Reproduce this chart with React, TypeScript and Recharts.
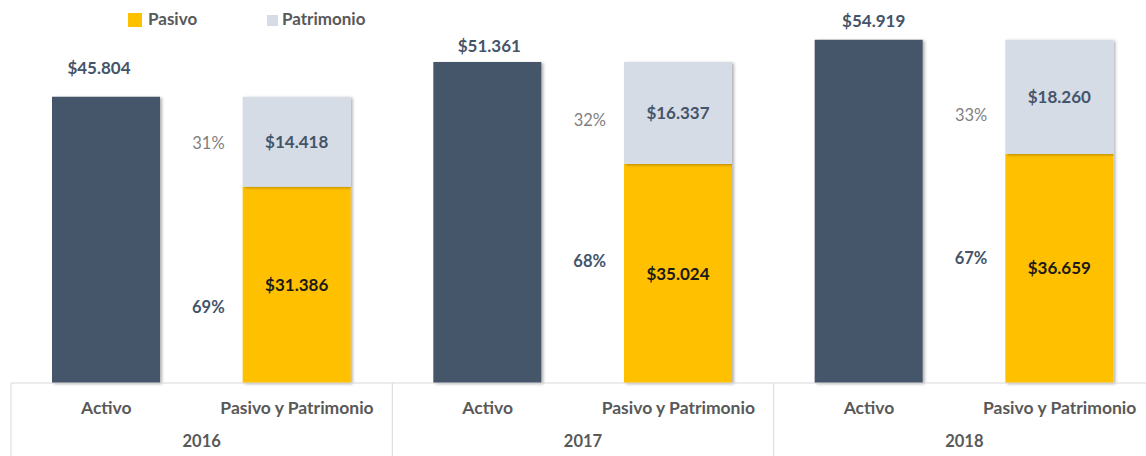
import React from 'react';
import { BarChart, Bar, XAxis, YAxis, Legend, LabelList } from 'recharts';

const years = ['2016', '2017', '2018'];
const groupLabels = ['Activo', 'Pasivo y Patrimonio'];
const activo = [45804, 51361, 54919];
const pasivo = [31386, 35024, 36659];
const patrimonio = [14418, 16337, 18260];
const pasivoPct = [69, 68, 67];
const patrimonioPct = [31, 32, 33];

const C_ACTIVO = '#44546A';
const C_PASIVO = '#FFC000';
const C_PATRI = '#D6DCE5';
const C_TEXT = '#595959';
const C_GRID = '#D9D9D9';
const FONT = 'Lato, "Open Sans", sans-serif';

const CHART_W = 1160;
const CHART_H = 456;
const M = { top: 8, right: 5, left: 11, bottom: 0 };
const BAND = (CHART_W - M.left - M.right) / 6;

// label nudges (px), per year
const patPctNudge = [1, 7, 18];
const pasPctNudge = [22, -13, -10];
const activoLabelGap = [23, 10, 13];
const activoLabelDx = [-7, 2, 5];

const data = years.flatMap((yr, i) => [
  { cat: groupLabels[0], year: yr, yi: i, activo: activo[i] },
  {
    cat: groupLabels[1],
    year: yr,
    yi: i,
    pasivo: pasivo[i],
    patrimonio: patrimonio[i],
    pasPct: pasivoPct[i],
    patPct: patrimonioPct[i],
  },
]);

const fmt = (v: number) => '$' + String(v).replace(/\B(?=(\d{3})+(?!\d))/g, '.');

const Tick = (props: any) => {
  const { x, y, payload, index } = props;
  const i = payload?.index ?? index;
  return (
    <g>
      <text x={x} y={y + 31} textAnchor="middle" fill={C_TEXT} fontFamily={FONT} fontWeight={700} fontSize={17.5}>
        {payload.value}
      </text>
      {i % 2 === 0 && (
        <>
          <line x1={x - BAND / 2} x2={x - BAND / 2} y1={y} y2={y + 80} stroke={C_GRID} strokeWidth={1} />
          <text x={x + BAND / 2} y={y + 64} textAnchor="middle" fill={C_TEXT} fontFamily={FONT} fontWeight={700} fontSize={16.5}>
            {data[i].year}
          </text>
        </>
      )}
      {i === 5 && <line x1={x + BAND / 2} x2={x + BAND / 2} y1={y} y2={y + 80} stroke={C_GRID} strokeWidth={1} />}
    </g>
  );
};

const withYear = (field: string) => (d: any) => (d[field] != null ? `${d.yi}|${d[field]}` : null);
const parse = (value: any) => {
  const [a, b] = String(value).split('|');
  return { yi: Number(a), v: Number(b) };
};

const ActivoLabel = (props: any) => {
  const { x, y, width, value } = props;
  if (value == null) return null;
  const { yi, v } = parse(value);
  return (
    <text
      x={x + width / 2 + (activoLabelDx[yi] || 0)}
      y={y - (activoLabelGap[yi] ?? 20)}
      textAnchor="middle"
      fill={C_ACTIVO}
      fontFamily={FONT}
      fontWeight={700}
      fontSize={17}
    >
      {fmt(v)}
    </text>
  );
};

const makeValueLabel = (color: string) => (props: any) => {
  const { x, y, width, height, value } = props;
  if (value == null) return null;
  return (
    <text x={x + width / 2} y={y + height / 2 + 6} textAnchor="middle" fill={color} fontFamily={FONT} fontWeight={700} fontSize={17}>
      {fmt(value)}
    </text>
  );
};

const makePctLabel = (color: string, weight: number, nudge: number[]) => (props: any) => {
  const { x, y, height, value } = props;
  if (value == null) return null;
  const { yi, v } = parse(value);
  return (
    <text x={x - 18} y={y + height / 2 + 6 + (nudge[yi] || 0)} textAnchor="end" fill={color} fontFamily={FONT} fontWeight={weight} fontSize={16.5}>
      {v}%
    </text>
  );
};

const LegendContent = () => (
  <div style={{ position: 'relative', width: 300, height: 24, fontFamily: FONT, fontWeight: 700, fontSize: 17, color: C_TEXT }}>
    <div style={{ position: 'absolute', left: 0, top: 5, width: 14, height: 14, background: C_PASIVO }} />
    <div style={{ position: 'absolute', left: 20, top: 1, lineHeight: '20px' }}>Pasivo</div>
    <div style={{ position: 'absolute', left: 139, top: 7, width: 11, height: 11, background: C_PATRI }} />
    <div style={{ position: 'absolute', left: 154, top: 1, lineHeight: '20px' }}>Patrimonio</div>
  </div>
);

export default function App() {
  return (
    <div style={{ position: 'absolute', left: 0, top: 0, width: 1146, height: 456, overflow: 'hidden', background: '#fff' }}>
      <BarChart width={CHART_W} height={CHART_H} data={data} margin={M} barSize={108}>
        <defs>
          <filter id="shadow" x="-10%" y="-10%" width="130%" height="130%">
            <feDropShadow dx="2" dy="1" stdDeviation="1.5" floodColor="#000" floodOpacity="0.3" />
          </filter>
        </defs>
        <XAxis
          dataKey="cat"
          interval={0}
          tickLine={false}
          tickSize={0}
          tickMargin={0}
          height={73}
          axisLine={{ stroke: C_GRID }}
          tick={<Tick />}
        />
        <YAxis hide domain={[0, 60000]} />
        <Legend
          layout="horizontal"
          verticalAlign="middle"
          wrapperStyle={{ top: 8, left: 128, width: 300, height: 24 }}
          content={<LegendContent />}
        />
        <Bar dataKey="activo" stackId="s" fill={C_ACTIVO} isAnimationActive={false} filter="url(#shadow)">
          <LabelList dataKey={withYear('activo')} content={<ActivoLabel />} />
        </Bar>
        <Bar dataKey="pasivo" name="Pasivo" stackId="s" fill={C_PASIVO} isAnimationActive={false} filter="url(#shadow)">
          <LabelList dataKey="pasivo" content={makeValueLabel('#1A1A1A')} />
          <LabelList dataKey={withYear('pasPct')} content={makePctLabel(C_ACTIVO, 700, pasPctNudge)} />
        </Bar>
        <Bar dataKey="patrimonio" name="Patrimonio" stackId="s" fill={C_PATRI} isAnimationActive={false} filter="url(#shadow)">
          <LabelList dataKey="patrimonio" content={makeValueLabel(C_ACTIVO)} />
          <LabelList dataKey={withYear('patPct')} content={makePctLabel('#7F7F7F', 400, patPctNudge)} />
        </Bar>
      </BarChart>
    </div>
  );
}
